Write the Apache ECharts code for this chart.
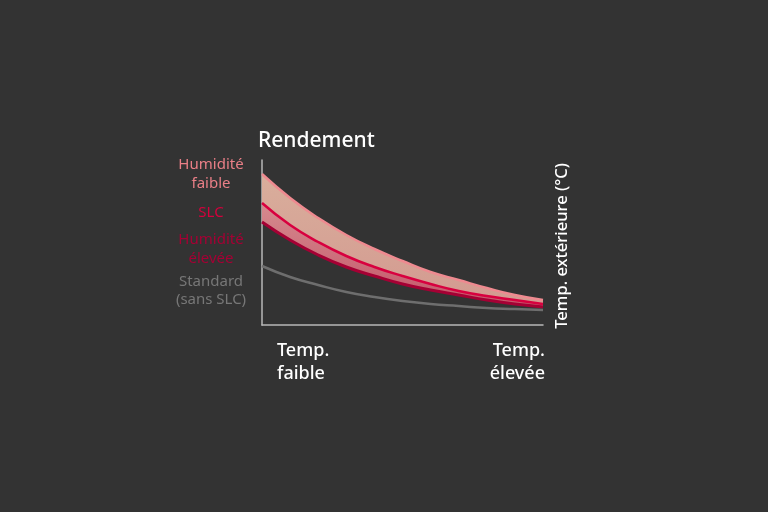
<!DOCTYPE html>
<html><head><meta charset="utf-8">
<script src="https://cdn.jsdelivr.net/npm/echarts@6/dist/echarts.min.js"></script>
<style>html,body{margin:0;padding:0;background:#333333;}#c{width:768px;height:512px;}</style>
</head><body><div id="c"></div>
<script>
const xs = ['0','10','20','30','40','50','60','70','80','90','100'];
const humiditeFaible = [151,127,107,90,76,64,53,45,37,30,25];
const slc = [122,100,83,69,58,49,41,34,29,25,21];
const humiditeElevee = [103,85,70,58,49,41,35,30,25,21,18];
const standard = [59,48,40,33,28,24,21,19,17,16,15];
const seriesNames = ['Humidité\nfaible','SLC','Humidité\nélevée','Standard\n(sans SLC)'];
const xLabels = ['Temp.\nfaible','Temp.\nélevée'];
const yTitle = 'Rendement';
const xTitle = 'Temp. extérieure (°C)';

const diff = (a,b) => a.map((v,i)=>v-b[i]);
const font = '"Noto Sans", "Open Sans", sans-serif';

const chart = echarts.init(document.getElementById('c'));
chart.setOption({
  backgroundColor:'#333333',
  animation:false,
  grid:{left:262,right:225,top:160,bottom:187},
  xAxis:{type:'category',data:xs,boundaryGap:false,axisLine:{show:true,lineStyle:{color:'#b8b8b8',width:1.5}},
    axisTick:{show:false},axisLabel:{show:false},splitLine:{show:false}},
  yAxis:{type:'value',min:0,max:165,axisLine:{show:true,lineStyle:{color:'#b8b8b8',width:1.5}},
    axisTick:{show:false},axisLabel:{show:false},splitLine:{show:false},
    name:yTitle,nameLocation:'end',nameGap:8,
    nameTextStyle:{color:'#ffffff',fontSize:21,fontWeight:500,fontFamily:font,align:'left',padding:[0,0,0,-4]}},
  series:[
    {type:'line',stack:'b',smooth:true,symbol:'none',data:humiditeElevee,lineStyle:{width:0},z:2},
    {type:'line',stack:'b',smooth:true,symbol:'none',data:diff(slc,humiditeElevee),lineStyle:{width:0},
      areaStyle:{opacity:1,color:new echarts.graphic.LinearGradient(0,0,0,1,[{offset:0,color:'#d58a8e'},{offset:1,color:'#c4566a'}])},z:2},
    {type:'line',stack:'b',smooth:true,symbol:'none',data:diff(humiditeFaible,slc),lineStyle:{width:2.5,color:'#ee8a90'},
      areaStyle:{opacity:1,color:new echarts.graphic.LinearGradient(0,0,0,1,[{offset:0,color:'#d9ae9c'},{offset:1,color:'#d39a90'}])},z:3},
    {type:'line',smooth:true,symbol:'none',data:humiditeElevee,lineStyle:{width:3,color:'#a50034'},z:4},
    {type:'line',smooth:true,symbol:'none',data:slc,lineStyle:{width:2.5,color:'#d8003f'},z:5},
    {type:'line',smooth:true,symbol:'none',data:standard,lineStyle:{width:2.5,color:'#6e6e6e'},z:4}
  ],
  graphic:[
    {type:'text',x:211,y:155,style:{text:seriesNames[0],fill:'#ea7f87',font:'15px '+font,align:'center',lineHeight:19}},
    {type:'text',x:211,y:203,style:{text:seriesNames[1],fill:'#d4003c',font:'15px '+font,align:'center',lineHeight:19}},
    {type:'text',x:211,y:230,style:{text:seriesNames[2],fill:'#a50034',font:'15px '+font,align:'center',lineHeight:19}},
    {type:'text',x:211,y:273,style:{text:seriesNames[3],fill:'#777777',font:'15px '+font,align:'center',lineHeight:18}},
    {type:'text',x:277,y:339,style:{text:xLabels[0],fill:'#ffffff',font:'500 18px '+font,align:'left',lineHeight:23}},
    {type:'text',x:545,y:339,style:{text:xLabels[1],fill:'#ffffff',font:'500 18px '+font,align:'right',lineHeight:23}},
    {type:'text',x:562,y:246,rotation:Math.PI/2,style:{text:xTitle,fill:'#ffffff',font:'500 16.5px '+font,align:'center',verticalAlign:'middle'}}
  ]
});
</script></body></html>
